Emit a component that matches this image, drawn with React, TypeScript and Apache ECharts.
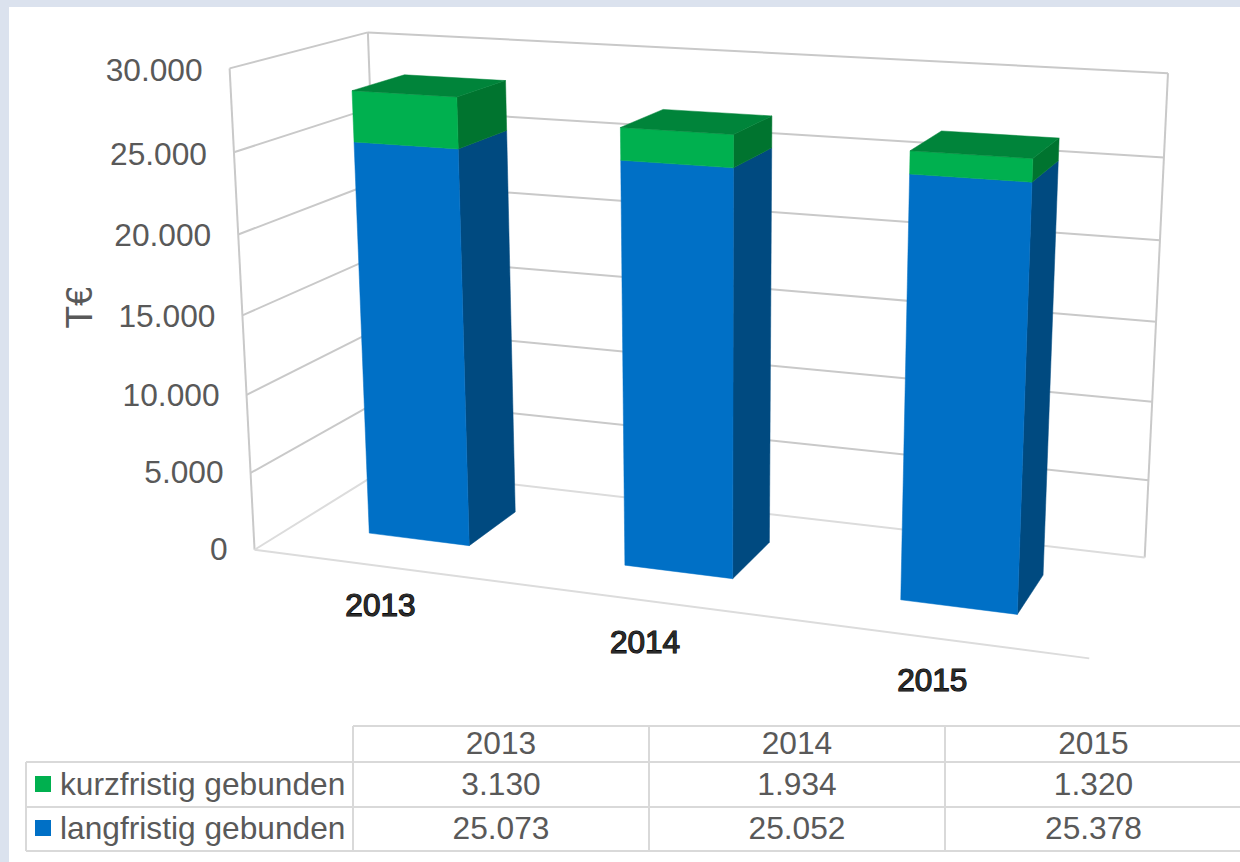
import React, { useEffect, useRef } from "react";
import * as echarts from "echarts";

const years = ["2013", "2014", "2015"];
const kurzfristig = [3130, 1934, 1320];
const langfristig = [25073, 25052, 25378];
const ticks = [0, 5000, 10000, 15000, 20000, 25000, 30000];
const seriesNames = ["kurzfristig gebunden", "langfristig gebunden"];

const W = 1240, H = 862;
const FONT = '"Liberation Sans", Arial, sans-serif';
const C = { grey: "#595959", line: "#c9c9c9", floor: "#dcdcdc", tbl: "#d9d9d9" };

// anchor points of the 3D box: [u, v, d] -> [x, y]
const anchors: number[][] = [
  [0, 0, 0, 253.5, 549], [0, 1, 0, 230, 69.5], [0, 1, 1, 367.5, 31.5], [0, 0, 1, 385, 470],
  [1, 1, 1, 1168, 73], [1, 0, 1, 1144, 558], [1, 0, 0, 1090, 658],
];
const catLabelOffset = [[0, 39], [-2, 41], [-3.5, 42]];

function solve(A: number[][], b: number[]) {
  const n = b.length; const M = A.map((r, i) => [...r, b[i]]);
  for (let i = 0; i < n; i++) {
    let p = i; for (let k = i + 1; k < n; k++) if (Math.abs(M[k][i]) > Math.abs(M[p][i])) p = k;
    [M[i], M[p]] = [M[p], M[i]];
    for (let k = 0; k < n; k++) if (k !== i) { const f = M[k][i] / M[i][i]; for (let j = i; j <= n; j++) M[k][j] -= f * M[i][j]; }
  }
  return M.map((r, i) => r[n] / r[i]);
}
function fitCamera() {
  const rows: number[][] = [], rhs: number[] = [];
  for (const [X, Y, Z, x, y] of anchors) {
    rows.push([X, Y, Z, 1, 0, 0, 0, 0, -x * X, -x * Y, -x * Z]); rhs.push(x);
    rows.push([0, 0, 0, 0, X, Y, Z, 1, -y * X, -y * Y, -y * Z]); rhs.push(y);
  }
  const N = rows[0].map((_, i) => rows[0].map((_, j) => rows.reduce((s, r) => s + r[i] * r[j], 0)));
  const B = rows[0].map((_, i) => rows.reduce((s, r, k) => s + r[i] * rhs[k], 0));
  return solve(N, B);
}
const P = fitCamera();
const proj = (u: number, v: number, d: number) => {
  const w = P[8] * u + P[9] * v + P[10] * d + 1;
  return [(P[0] * u + P[1] * v + P[2] * d + P[3]) / w, (P[4] * u + P[5] * v + P[6] * d + P[7]) / w];
};

const BAR_W = 0.4, D0 = 0.3, D1 = 0.7;
const fmt = (n: number) => String(n).replace(/\B(?=(\d{3})+$)/g, ".");

function barRender(colors: any, withTop: boolean) {
  return (params: any, api: any) => {
    const cat = api.value(0), lo = api.value(1), hi = api.value(2);
    const bw = api.size([1, 0])[0] * BAR_W;
    const c0 = api.coord([cat, lo]), c1 = api.coord([cat, hi]);
    const u0 = (c0[0] - bw / 2) / W, u1 = (c0[0] + bw / 2) / W;
    const v0 = 1 - c0[1] / H, v1 = 1 - c1[1] / H;
    const poly = (pts: number[][], fill: string) => ({ type: "polygon", shape: { points: pts }, style: { fill, stroke: fill, lineWidth: 0.5 } });
    const kids: any[] = [
      poly([proj(u1, v0, D0), proj(u1, v0, D1), proj(u1, v1, D1), proj(u1, v1, D0)], colors.side),
      poly([proj(u0, v0, D0), proj(u1, v0, D0), proj(u1, v1, D0), proj(u0, v1, D0)], colors.front),
    ];
    if (withTop) kids.push(poly([proj(u0, v1, D0), proj(u1, v1, D0), proj(u1, v1, D1), proj(u0, v1, D1)], colors.top));
    return { type: "group", children: kids };
  };
}

function wallRender(params: any, api: any) {
  const val = api.value(1);
  const v = 1 - api.coord([0, val])[1] / H;
  const line = (a: number[], b: number[], stroke: string) => ({ type: "line", shape: { x1: a[0], y1: a[1], x2: b[0], y2: b[1] }, style: { stroke, lineWidth: 2 } });
  const col = val === 0 ? C.floor : C.line;
  const a = proj(0, v, 0), b = proj(0, v, 1), c = proj(1, v, 1);
  return {
    type: "group",
    children: [
      line(a, b, col), line(b, c, col),
      { type: "text", style: { text: fmt(val), x: a[0] - 27, y: a[1] + 3 * v - 1, textAlign: "right", textVerticalAlign: "middle", fill: C.grey, font: `31.7px ${FONT}` } },
    ],
  };
}

function frameRender(params: any, api: any) {
  const line = (a: number[], b: number[], stroke: string) => ({ type: "line", shape: { x1: a[0], y1: a[1], x2: b[0], y2: b[1] }, style: { stroke, lineWidth: 2 } });
  return {
    type: "group",
    children: [
      line(proj(0, 0, 0), proj(0, 1, 0), C.line), line(proj(0, 0, 1), proj(0, 1, 1), C.line),
      line(proj(1, 0, 1), proj(1, 1, 1), C.line), line(proj(0, 0, 0), proj(1, 0, 0), C.floor),
    ],
  };
}

function catRender(params: any, api: any) {
  const i = api.value(0);
  const c = api.coord([i, 0]);
  const p = proj(c[0] / W, 0, 0);
  return { type: "text", style: { text: years[i], x: p[0] + catLabelOffset[i][0], y: p[1] + catLabelOffset[i][1], textAlign: "center", textVerticalAlign: "middle", fill: "#2a2a2a", font: `31.5px ${FONT}`, stroke: "#000000", lineWidth: 1.2 } };
}

function tableGraphics() {
  const xs = [353, 649, 945, 1241], ys = [726, 762, 807, 851], L = 26;
  const centers = [501, 797, 1093.5], rows = [784, 828];
  const vals = [kurzfristig, langfristig], swatch = ["#00B04F", "#0070C6"];
  const els: any[] = [];
  const ln = (x1: number, y1: number, x2: number, y2: number) => els.push({ type: "line", shape: { x1, y1, x2, y2 }, style: { stroke: C.tbl, lineWidth: 2 } });
  ln(xs[0], ys[0], 1240, ys[0]);
  ys.slice(1).forEach((y) => ln(L, y, 1240, y));
  ln(L, ys[1], L, ys[3]);
  xs.slice(0, 3).forEach((x) => ln(x, ys[0], x, ys[3]));
  const txt = (text: string, x: number, y: number, align = "center") => els.push({ type: "text", x, y, style: { text, textAlign: align, textVerticalAlign: "middle", fill: C.grey, font: `31.7px ${FONT}` } });
  years.forEach((t, i) => txt(t, centers[i], 743));
  seriesNames.forEach((s, r) => {
    els.push({ type: "rect", shape: { x: 35, y: rows[r] - 8, width: 16, height: 16 }, style: { fill: swatch[r] } });
    txt(s, 60, rows[r], "left");
    vals[r].forEach((v, i) => txt(fmt(v), centers[i], rows[r]));
  });
  return els;
}

export default function App() {
  const ref = useRef<HTMLDivElement>(null);
  useEffect(() => {
    document.body.style.margin = "0";
    const chart = echarts.init(ref.current!, null, { renderer: "svg" });
    chart.setOption({
      animation: false,
      grid: { left: 0, right: 0, top: 0, bottom: 0 },
      xAxis: { type: "category", data: years, show: false },
      yAxis: { type: "value", min: 0, max: 30000, interval: 5000, show: false },
      graphic: {
        elements: [
          { type: "rect", z: -10, shape: { x: 0, y: 0, width: W, height: H }, style: { fill: "#dbe2ee" } },
          { type: "rect", z: -9, shape: { x: 9, y: 7, width: W - 9, height: H - 7 }, style: { fill: "#ffffff" } },
          { type: "text", x: 79, y: 307, rotation: Math.PI / 2, style: { text: "T€", textAlign: "center", textVerticalAlign: "middle", fill: C.grey, font: `37px ${FONT}` } },
          { type: "rect", shape: { x: 60, y: 276, width: 40, height: 12 }, style: { fill: "#ffffff" } },
          ...tableGraphics(),
        ],
      },
      series: [
        { type: "custom", name: "frame", silent: true, renderItem: frameRender, encode: { x: 0, y: 1 }, data: [[0, 0]] },
        { type: "custom", name: "ticks", silent: true, renderItem: wallRender, encode: { x: 0, y: 1 }, data: ticks.map((t) => [0, t]) },
        { type: "custom", name: seriesNames[1], silent: true, renderItem: barRender({ front: "#0070C6", side: "#004A80" }, false), encode: { x: 0, y: [1, 2] }, data: langfristig.map((v, i) => [i, 0, v]) },
        { type: "custom", name: seriesNames[0], silent: true, renderItem: barRender({ front: "#00B04F", side: "#00742F", top: "#00843A" }, true), encode: { x: 0, y: [1, 2] }, data: kurzfristig.map((v, i) => [i, langfristig[i], langfristig[i] + v]) },
        { type: "custom", name: "cats", silent: true, renderItem: catRender, encode: { x: 0, y: 1 }, data: years.map((_, i) => [i, 0]) },
      ],
    });
    return () => chart.dispose();
  }, []);
  return <div ref={ref} style={{ width: W, height: H }} />;
}
